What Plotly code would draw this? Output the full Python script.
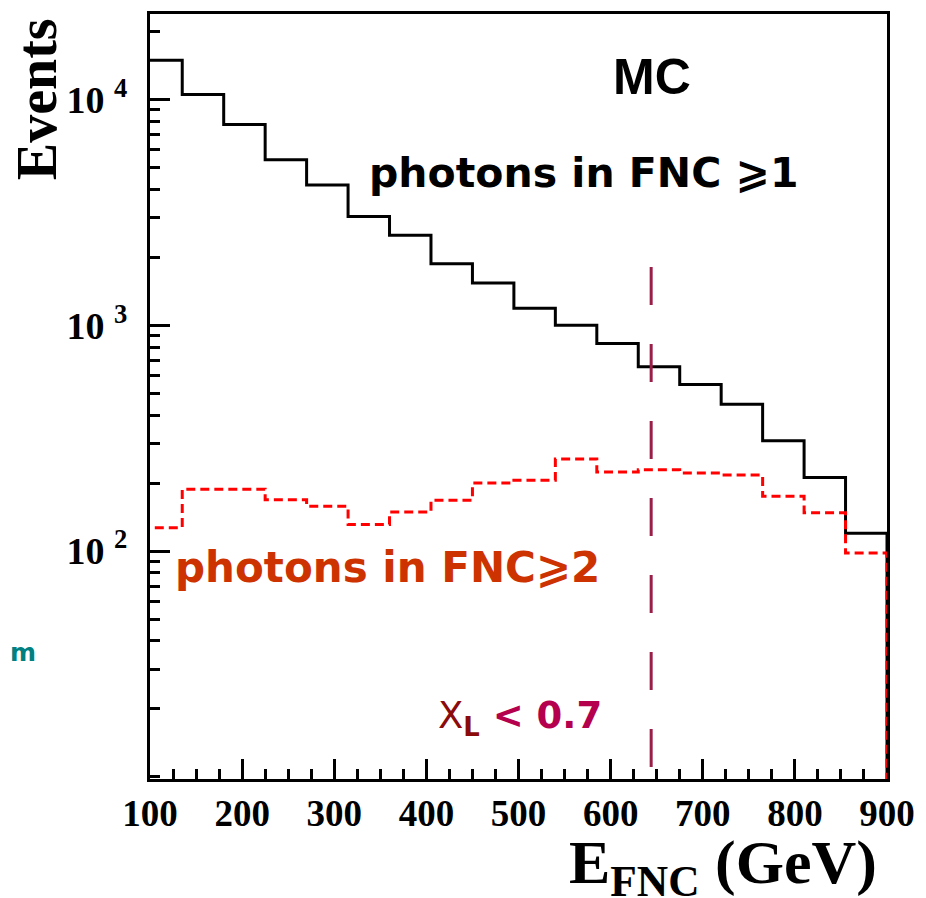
"""E_FNC spectrum of photons in the FNC (MC), log-scale step histograms."""

import plotly.graph_objects as go

# bin edges in GeV (18 bins of 45 GeV, first one partly below the axis range)
BIN_EDGES = [90, 135, 180, 225, 270, 315, 360, 405, 450, 495,
             540, 585, 630, 675, 720, 765, 810, 855, 900]

# events with >= 1 photon in the FNC
N_PHOTONS_GE1 = [14900, 10500, 7750, 5400, 4180, 3030, 2500, 1870, 1540,
                 1190, 1000, 830, 655, 547, 447, 308, 212, 120]

# events with >= 2 photons in the FNC
N_PHOTONS_GE2 = [127, 188, 188, 169, 158, 131, 149, 168, 200,
                 206, 256, 224, 229, 222, 217, 175, 148, 98]

# x_L < 0.7 cut position and the top of the marker line
XL_CUT_GEV = 644
XL_LINE_TOP = 1810

X_TICKS = [100, 200, 300, 400, 500, 600, 700, 800, 900]
Y_TICK_EXPONENTS = [2, 3, 4]

Y_FLOOR = 1  # histogram outline closes down to below the frame
Y_LOG_RANGE = [0.991, 4.378]

SERIF = "Liberation Serif"
SANS = "DejaVu Sans"


def step_xy(edges, counts):
    xs = list(edges) + [edges[-1]]
    ys = list(counts) + [counts[-1], Y_FLOOR]
    return xs, ys


fig = go.Figure()

x1, y1 = step_xy(BIN_EDGES, N_PHOTONS_GE1)
fig.add_trace(go.Scatter(
    x=x1, y=y1, mode="lines", line_shape="hv",
    line=dict(color="black", width=3),
    showlegend=False, hoverinfo="skip",
))

x2, y2 = step_xy(BIN_EDGES, N_PHOTONS_GE2)
fig.add_trace(go.Scatter(
    x=x2, y=y2, mode="lines", line_shape="hv",
    line=dict(color="#FF0000", width=3, dash="9px,5px"),
    showlegend=False, hoverinfo="skip",
))

# drawn top-down so the dash pattern starts at the top end
fig.add_trace(go.Scatter(
    x=[XL_CUT_GEV, XL_CUT_GEV], y=[XL_LINE_TOP, Y_FLOOR], mode="lines",
    line=dict(color="#9A1F48", width=3, dash="38px,39px"),
    showlegend=False, hoverinfo="skip",
))

annotations = [
    dict(text="<b>MC</b>", x=0.681, y=0.918,
         font=dict(family="Liberation Sans", size=50, color="black")),
    dict(text="<b>photons in FNC \u2a7e1</b>", x=0.588, y=0.792,
         font=dict(family=SANS, size=41, color="black")),
    dict(text="<b>photons in FNC\u2a7e2</b>", x=0.322, y=0.277,
         font=dict(family=SANS, size=42, color="#CC3300")),
    dict(text=("<span style='color:#8B0A0A'>X</span>"
               "<sub><b><span style='color:#8B0A0A'>L</span></b></sub>"
               "<b> &lt; 0.7</b>"),
         x=0.502, y=0.080,
         font=dict(family=SANS, size=37, color="#B5004E")),
    dict(text="<b>m</b>", x=-0.1927, y=0.165, xanchor="left",
         font=dict(family=SANS, size=25, color="#008080")),
    dict(text="<b>Events</b>", x=-0.154, y=0.888, textangle=-90,
         font=dict(family=SERIF, size=56, color="black")),
    dict(text="<b>E<sub>FNC</sub> (GeV)</b>", x=0.778, y=-0.114,
         font=dict(family=SERIF, size=62, color="black")),
]
for a in annotations:
    a.setdefault("xanchor", "center")
    fig.add_annotation(xref="paper", yref="paper", showarrow=False,
                       yanchor="middle", **a)

# the page body has an 8px margin, so the figure is 8px smaller and
# the left/top margins 8px narrower to keep the frame where it belongs
fig.update_layout(
    width=918,
    height=890,
    autosize=False,
    plot_bgcolor="white",
    paper_bgcolor="white",
    margin=dict(l=142, r=39, t=3, b=119),
    xaxis=dict(
        range=[100, 900],
        tickvals=X_TICKS,
        ticktext=[f"<b>{v}</b>" for v in X_TICKS],
        ticks="inside", ticklen=20, tickwidth=3, tickcolor="black",
        minor=dict(dtick=25, ticks="inside", ticklen=10, tickwidth=3,
                   tickcolor="black", showgrid=False),
        showline=True, linewidth=3, linecolor="black", mirror=True,
        showgrid=False, zeroline=False,
        tickfont=dict(family=SERIF, size=37, color="black"),
    ),
    yaxis=dict(
        type="log",
        range=Y_LOG_RANGE,
        tickvals=[10 ** e for e in Y_TICK_EXPONENTS],
        ticktext=[f"<b>10 <sup>{e}</sup></b>" for e in Y_TICK_EXPONENTS],
        ticks="inside", ticklen=20, tickwidth=3, tickcolor="black",
        minor=dict(dtick="D1", ticks="inside", ticklen=10, tickwidth=3,
                   tickcolor="black", showgrid=False),
        showline=True, linewidth=3, linecolor="black", mirror=True,
        showgrid=False, zeroline=False,
        ticklabelstandoff=12,
        tickfont=dict(family=SERIF, size=38, color="black"),
    ),
)

fig.write_html("out.html")
